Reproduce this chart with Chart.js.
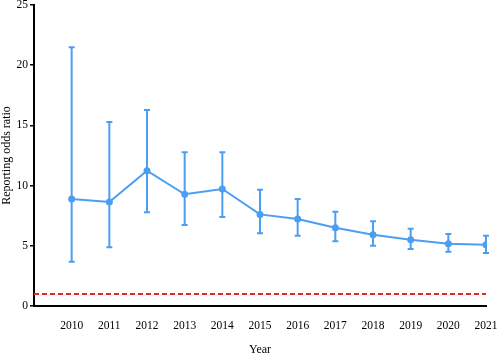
<!DOCTYPE html>
<html lang="en">

<head>
    <meta charset="UTF-8">
    <title>Reporting odds ratio by year</title>
    <style>
        body {
            margin: 0;
            padding: 0;
            background-color: #ffffff;
        }

        #wrap {
            width: 498px;
            height: 355px;
        }
    </style>
</head>

<body>
    <div id="wrap"><canvas id="rorChart"></canvas></div>

    <script src="https://cdn.jsdelivr.net/npm/chart.js"></script>

    <script>
        const years = [2010, 2011, 2012, 2013, 2014, 2015, 2016, 2017, 2018, 2019, 2020, 2021];
        const ror = [8.89, 8.64, 11.24, 9.28, 9.72, 7.61, 7.23, 6.5, 5.92, 5.51, 5.17, 5.09];
        const lower = [3.68, 4.87, 7.78, 6.73, 7.39, 6.04, 5.84, 5.37, 5.01, 4.73, 4.51, 4.4];
        const upper = [21.5, 15.28, 16.28, 12.77, 12.77, 9.66, 8.89, 7.83, 7.03, 6.42, 5.98, 5.84];
        const yTicks = [0, 5, 10, 15, 20, 25];
        const refLine = 1;

        const BLUE = '#4c9ef2';
        const RED = '#e8261c';

        // vertical error bars with caps, drawn from the lower/upper arrays
        const errorBars = {
            id: 'errorBars',
            beforeDatasetsDraw(chart) {
                const ctx = chart.ctx;
                const xs = chart.scales.x;
                const ys = chart.scales.y;
                ctx.save();
                ctx.strokeStyle = BLUE;
                ctx.lineWidth = 2;
                for (let i = 0; i < years.length; i++) {
                    const x = xs.getPixelForValue(years[i]);
                    const yl = ys.getPixelForValue(lower[i]);
                    const yu = ys.getPixelForValue(upper[i]);
                    ctx.beginPath();
                    ctx.moveTo(x, yl);
                    ctx.lineTo(x, yu);
                    ctx.moveTo(x - 3, yl);
                    ctx.lineTo(x + 3, yl);
                    ctx.moveTo(x - 3, yu);
                    ctx.lineTo(x + 3, yu);
                    ctx.stroke();
                }
                ctx.restore();
            }
        };

        Chart.defaults.font.family = '"Liberation Serif", "Times New Roman", serif';
        Chart.defaults.color = '#000000';

        var ctx = document.getElementById('rorChart').getContext('2d');

        var chart = new Chart(ctx, {
            type: 'line',
            data: {
                datasets: [
                    {
                        label: 'ROR',
                        data: years.map((y, i) => ({ x: y, y: ror[i] })),
                        borderColor: BLUE,
                        backgroundColor: BLUE,
                        borderWidth: 2,
                        pointRadius: 2.5,
                        pointHoverRadius: 2.5,
                        tension: 0,
                    },
                    {
                        label: 'Reference',
                        data: [{ x: 2009, y: refLine }, { x: years[years.length - 1], y: refLine }],
                        borderColor: RED,
                        borderWidth: 2,
                        borderDash: [5, 3],
                        pointRadius: 0,
                    }
                ]
            },
            options: {
                responsive: true,
                maintainAspectRatio: false,
                animation: false,
                layout: {
                    padding: { top: 5, right: 12, left: 0, bottom: 0 }
                },
                scales: {
                    x: {
                        type: 'linear',
                        min: 2009,
                        max: 2021,
                        afterFit: function (scale) {
                            scale.height = 49;
                            scale.paddingRight = 0;
                            scale.paddingLeft = 0;
                        },
                        grid: { display: false },
                        border: { display: true, color: '#000000', width: 2 },
                        ticks: {
                            stepSize: 1,
                            padding: 5,
                            font: { size: 11.5 },
                            callback: function (v) { return v === 2009 ? null : String(v); }
                        },
                        title: {
                            display: true,
                            text: 'Year',
                            font: { size: 12 },
                            padding: { top: 2, bottom: -2 }
                        }
                    },
                    y: {
                        min: 0,
                        max: 25,
                        afterFit: function (scale) {
                            scale.width = 34;
                            scale.paddingTop = 0;
                            scale.paddingBottom = 0;
                        },
                        afterBuildTicks: function (scale) {
                            scale.ticks = yTicks.map(v => ({ value: v }));
                        },
                        grid: {
                            display: true,
                            drawOnChartArea: false,
                            drawTicks: true,
                            tickLength: 4,
                            color: '#000000',
                            lineWidth: 1.5
                        },
                        border: { display: true, color: '#000000', width: 2 },
                        ticks: {
                            padding: 2,
                            font: { size: 11.5 }
                        },
                        title: {
                            display: true,
                            text: 'Reporting odds ratio',
                            font: { size: 12 },
                            padding: 0
                        }
                    }
                },
                plugins: {
                    legend: { display: false },
                    tooltip: { enabled: false }
                }
            },
            plugins: [errorBars]
        });
    </script>
</body>

</html>
